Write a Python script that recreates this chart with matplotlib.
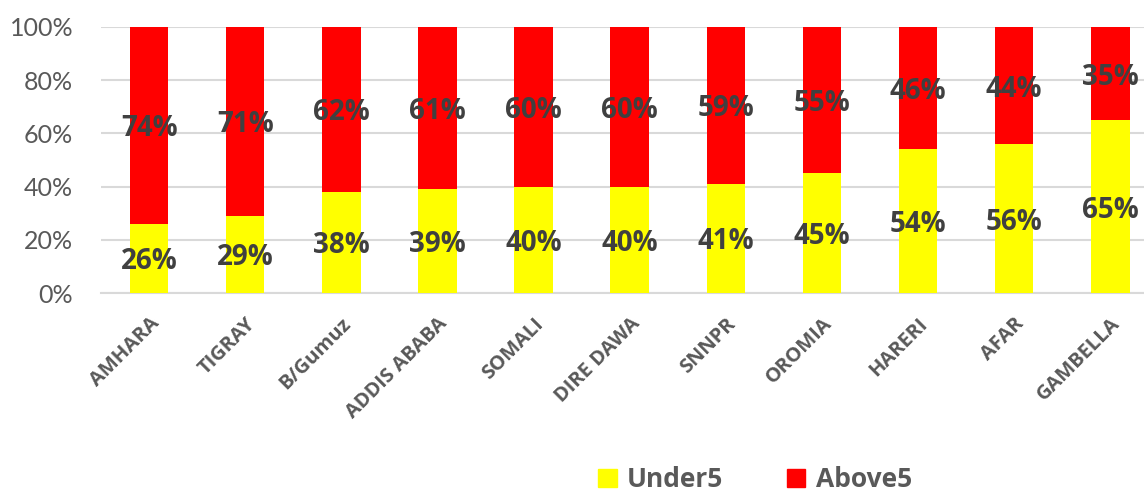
import matplotlib.pyplot as plt
from matplotlib.patches import Patch
import numpy as np

plt.rcParams['font.family'] = ['Lato', 'DejaVu Sans']
BOLD = ['Open Sans', 'DejaVu Sans']

regions = ['AMHARA', 'TIGRAY', 'B/Gumuz', 'ADDIS ABABA', 'SOMALI', 'DIRE DAWA',
           'SNNPR', 'OROMIA', 'HARERI', 'AFAR', 'GAMBELLA']
under5 = [26, 29, 38, 39, 40, 40, 41, 45, 54, 56, 65]
above5 = [74, 71, 62, 61, 60, 60, 59, 55, 46, 44, 35]

fig = plt.figure(figsize=(11.44, 4.98), dpi=100)
ax = fig.add_axes([0.0883, 0.4116, 0.9117, 0.5342])

x = np.arange(len(regions))
ax.bar(x, under5, width=0.4, color='#ffff00', zorder=3)
ax.bar(x, above5, width=0.4, bottom=under5, color='#ff0000', zorder=3)

# percentage labels in the middle of each segment
for i in range(len(regions)):
    ax.text(x[i], under5[i] / 2, f'{under5[i]}%', ha='center', va='center_baseline',
            fontsize=20, fontweight='bold', family=BOLD, color='#404040', zorder=4)
    ax.text(x[i], under5[i] + above5[i] / 2, f'{above5[i]}%', ha='center',
            va='center_baseline', fontsize=20, fontweight='bold', family=BOLD,
            color='#404040', zorder=4)

ax.set_xlim(-0.5, 10.35)
ax.set_ylim(0, 100)
ax.set_yticks(range(0, 101, 20))
ax.set_yticklabels([f'{v}%' for v in range(0, 101, 20)], fontsize=18, color='#595959')
ax.set_xticks(x)
ax.set_xticklabels(regions, rotation=45, ha='right', rotation_mode='anchor',
                   fontsize=14.5, fontweight='bold', family=BOLD, color='#595959')
ax.tick_params(axis='both', length=0)
ax.tick_params(axis='y', pad=20)
ax.tick_params(axis='x', pad=15)

ax.grid(axis='y', color='#d9d9d9', linewidth=1.5, zorder=0)
for s in ['top', 'right', 'left']:
    ax.spines[s].set_visible(False)
ax.spines['bottom'].set_color('#d9d9d9')
ax.spines['bottom'].set_linewidth(1.5)

handles = [Patch(color='#ffff00', label='Under5'), Patch(color='#ff0000', label='Above5')]
fig.legend(handles=handles, loc='center', bbox_to_anchor=(0.660, 0.037), ncol=2,
           frameon=False, handlelength=0.7, handleheight=0.7, handletextpad=0.4,
           columnspacing=2.4, prop={'size': 19, 'weight': 'bold', 'family': BOLD},
           labelcolor='#595959')

fig.savefig('out.png', dpi=100)
